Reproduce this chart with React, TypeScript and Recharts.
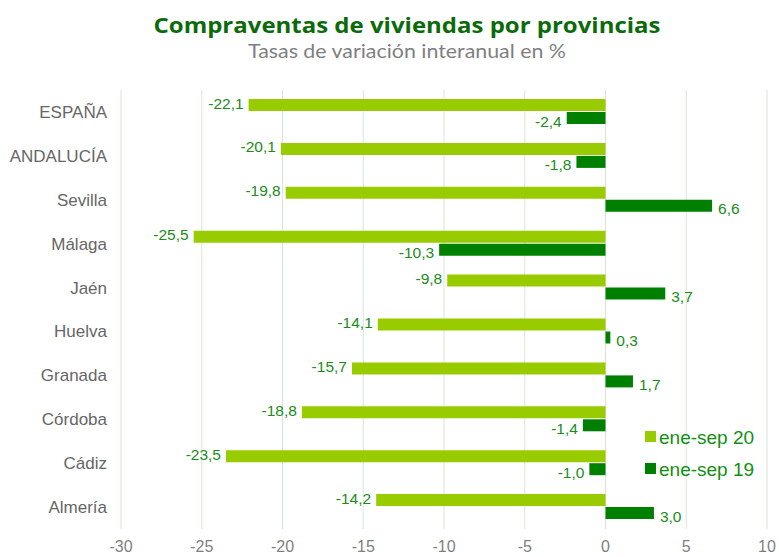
import React from 'react';
import { BarChart, Bar, XAxis, YAxis, CartesianGrid, LabelList } from 'recharts';

const provincias = ['ESPAÑA', 'ANDALUCÍA', 'Sevilla', 'Málaga', 'Jaén', 'Huelva', 'Granada', 'Córdoba', 'Cádiz', 'Almería'];
const eneSep20 = [-22.1, -20.1, -19.8, -25.5, -9.8, -14.1, -15.7, -18.8, -23.5, -14.2];
const eneSep19 = [-2.4, -1.8, 6.6, -10.3, 3.7, 0.3, 1.7, -1.4, -1.0, 3.0];
const xTicks = [-30, -25, -20, -15, -10, -5, 0, 5, 10];
const seriesNames = ['ene-sep 20', 'ene-sep 19'];

const LIGHT = '#99cc00';
const DARK = '#008000';
const LABEL = '#1a8c1a';
const FONT = "'Liberation Sans', Arial, sans-serif";

const data = provincias.map((name, i) => ({ name, v20: eneSep20[i], v19: eneSep19[i] }));

const fmt = (v: number) => v.toFixed(1).replace('.', ',');

// etiqueta al final de la barra: izquierda si es negativa, derecha si es positiva
const makeLabel = (dy: number) => (props: any) => {
  const { x, y, width, height, value } = props;
  const left = Math.min(x, x + width);
  const right = Math.max(x, x + width);
  const neg = value < 0;
  return (
    <text
      x={neg ? left - 5 : right + 6}
      y={y + height / 2 + dy}
      textAnchor={neg ? 'end' : 'start'}
      dominantBaseline="central"
      fill={LABEL}
      fontSize={15.5}
      fontFamily={FONT}
    >
      {fmt(value)}
    </text>
  );
};

export default function App() {
  return (
    <div style={{ position: 'absolute', left: 0, top: 0, width: 779, height: 557, background: '#fff' }}>
      <BarChart
        width={779}
        height={557}
        data={data}
        layout="vertical"
        margin={{ top: 90, right: 12, left: 0, bottom: 8 }}
        barSize={12}
        barGap={1}
      >
        <CartesianGrid horizontal={false} stroke="#d8e6d8" />
        <XAxis
          type="number"
          domain={[-30, 10]}
          ticks={xTicks}
          axisLine={false}
          tickLine={false}
          height={20}
          tickMargin={6}
          tick={{ fill: '#7f7f7f', fontSize: 16, fontFamily: FONT }}
        />
        <YAxis
          type="category"
          dataKey="name"
          width={121}
          axisLine={false}
          tickLine={false}
          tickMargin={8}
          tick={{ fill: '#666666', fontSize: 17, fontFamily: FONT }}
        />
        <Bar dataKey="v20" name={seriesNames[0]} fill={LIGHT} isAnimationActive={false}>
          <LabelList dataKey="v20" content={makeLabel(-2)} />
        </Bar>
        <Bar dataKey="v19" name={seriesNames[1]} fill={DARK} isAnimationActive={false}>
          <LabelList dataKey="v19" content={makeLabel(3)} />
        </Bar>
      </BarChart>
      <svg width={779} height={557} style={{ position: 'absolute', left: 0, top: 0, pointerEvents: 'none' }}>
        <text
          x={407}
          y={33}
          textAnchor="middle"
          fontFamily="'Open Sans', sans-serif"
          fontWeight="bold"
          fontSize={22}
          fill="#0b6b0b"
          textLength={507}
          lengthAdjust="spacingAndGlyphs"
        >
          Compraventas de viviendas por provincias
        </text>
        <text
          x={407}
          y={58}
          textAnchor="middle"
          fontFamily="Lato, sans-serif"
          fontSize={19}
          fill="#7f7f7f"
          textLength={318}
          lengthAdjust="spacingAndGlyphs"
        >
          Tasas de variación interanual en %
        </text>
        {seriesNames.map((t, i) => (
          <g key={t}>
            <rect x={645} y={431 + i * 32} width={11} height={11} fill={i === 0 ? LIGHT : DARK} />
            <text x={659} y={437 + i * 32} dominantBaseline="central" fontFamily={FONT} fontSize={19} fill="#109010">
              {t}
            </text>
          </g>
        ))}
      </svg>
    </div>
  );
}
